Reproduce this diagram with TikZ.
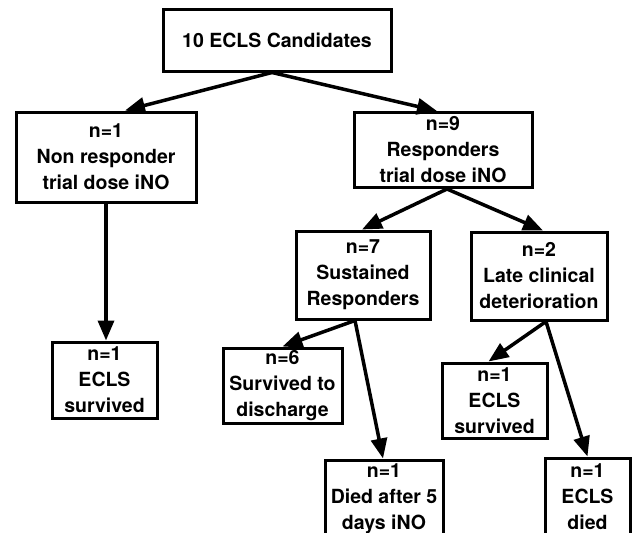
\documentclass[tikz,border=0pt]{standalone}
\usepackage{fontspec}
\setmainfont{TeX Gyre Heros}
\usepackage{tikz}
\usetikzlibrary{arrows.meta, positioning}

\begin{document}
\begin{tikzpicture}[
                x=1pt, y=-1pt,
                box/.style={draw=black, line width=3pt, rectangle, inner sep=0pt, align=center, font=\fontsize{19.5}{26}\selectfont\bfseries},
                edge/.style={line width=3.5pt, -{Triangle[length=20pt, width=16pt]}}
            ]
            \useasboundingbox (0,0) rectangle (633,533);

            % Knoten
            \node[box, minimum width=228pt, minimum height=62pt] (cand) at (277,40) {10 ECLS Candidates};
            \node[box, minimum width=180pt, minimum height=90pt] (nonresp) at (106,157) {n=1\\Non responder\\trial dose iNO};
            \node[box, minimum width=178pt, minimum height=75pt] (resp) at (443,150) {n=9\\Responders\\trial dose iNO};
            \node[box, minimum width=134pt, minimum height=88pt] (sust) at (363,275) {n=7\\Sustained\\Responders};
            \node[box, minimum width=136pt, minimum height=88pt] (late) at (539,276) {n=2\\Late clinical\\deterioration};
            \node[box, minimum width=105pt, minimum height=76pt] (eclsL) at (104.5,380) {n=1\\ECLS\\survived};
            \node[box, minimum width=119pt, minimum height=75pt] (disch) at (282.5,385.5) {n=6\\Survived to\\discharge};
            \node[box, minimum width=118pt, minimum height=78pt] (died) at (384,499) {n=1\\Died after 5\\days iNO};
            \node[box, minimum width=105pt, minimum height=75pt] (eclsR) at (494.5,400.5) {n=1\\ECLS\\survived};
            \node[box, minimum width=85pt, minimum height=78pt] (eclsD) at (587.5,497) {n=1\\ECLS\\died};

            % Kanten zwischen Knoten
            \draw[edge] ([xshift=-5pt]cand.south) -- ([xshift=19pt]nonresp.north);
            \draw[edge] ([xshift=-5pt]cand.south) -- ([xshift=-6pt]resp.north);
            \draw[edge] (nonresp.south) -- (nonresp.south |- eclsL.north);
            \draw[edge] ([xshift=4pt]resp.south) -- ([xshift=-1pt]sust.north);
            \draw[edge] ([xshift=4pt]resp.south) -- ([xshift=4pt]late.north);
            \draw[edge] ([xshift=-8pt]sust.south) -- (disch.north);
            \draw[edge] ([xshift=-8pt]sust.south) -- ([xshift=-1pt]died.north);
            \draw[edge] ([xshift=7pt]late.south) -- ([xshift=-6pt]eclsR.north);
            \draw[edge] ([xshift=7pt]late.south) -- (eclsD.north);

        \end{tikzpicture}
\end{document}
